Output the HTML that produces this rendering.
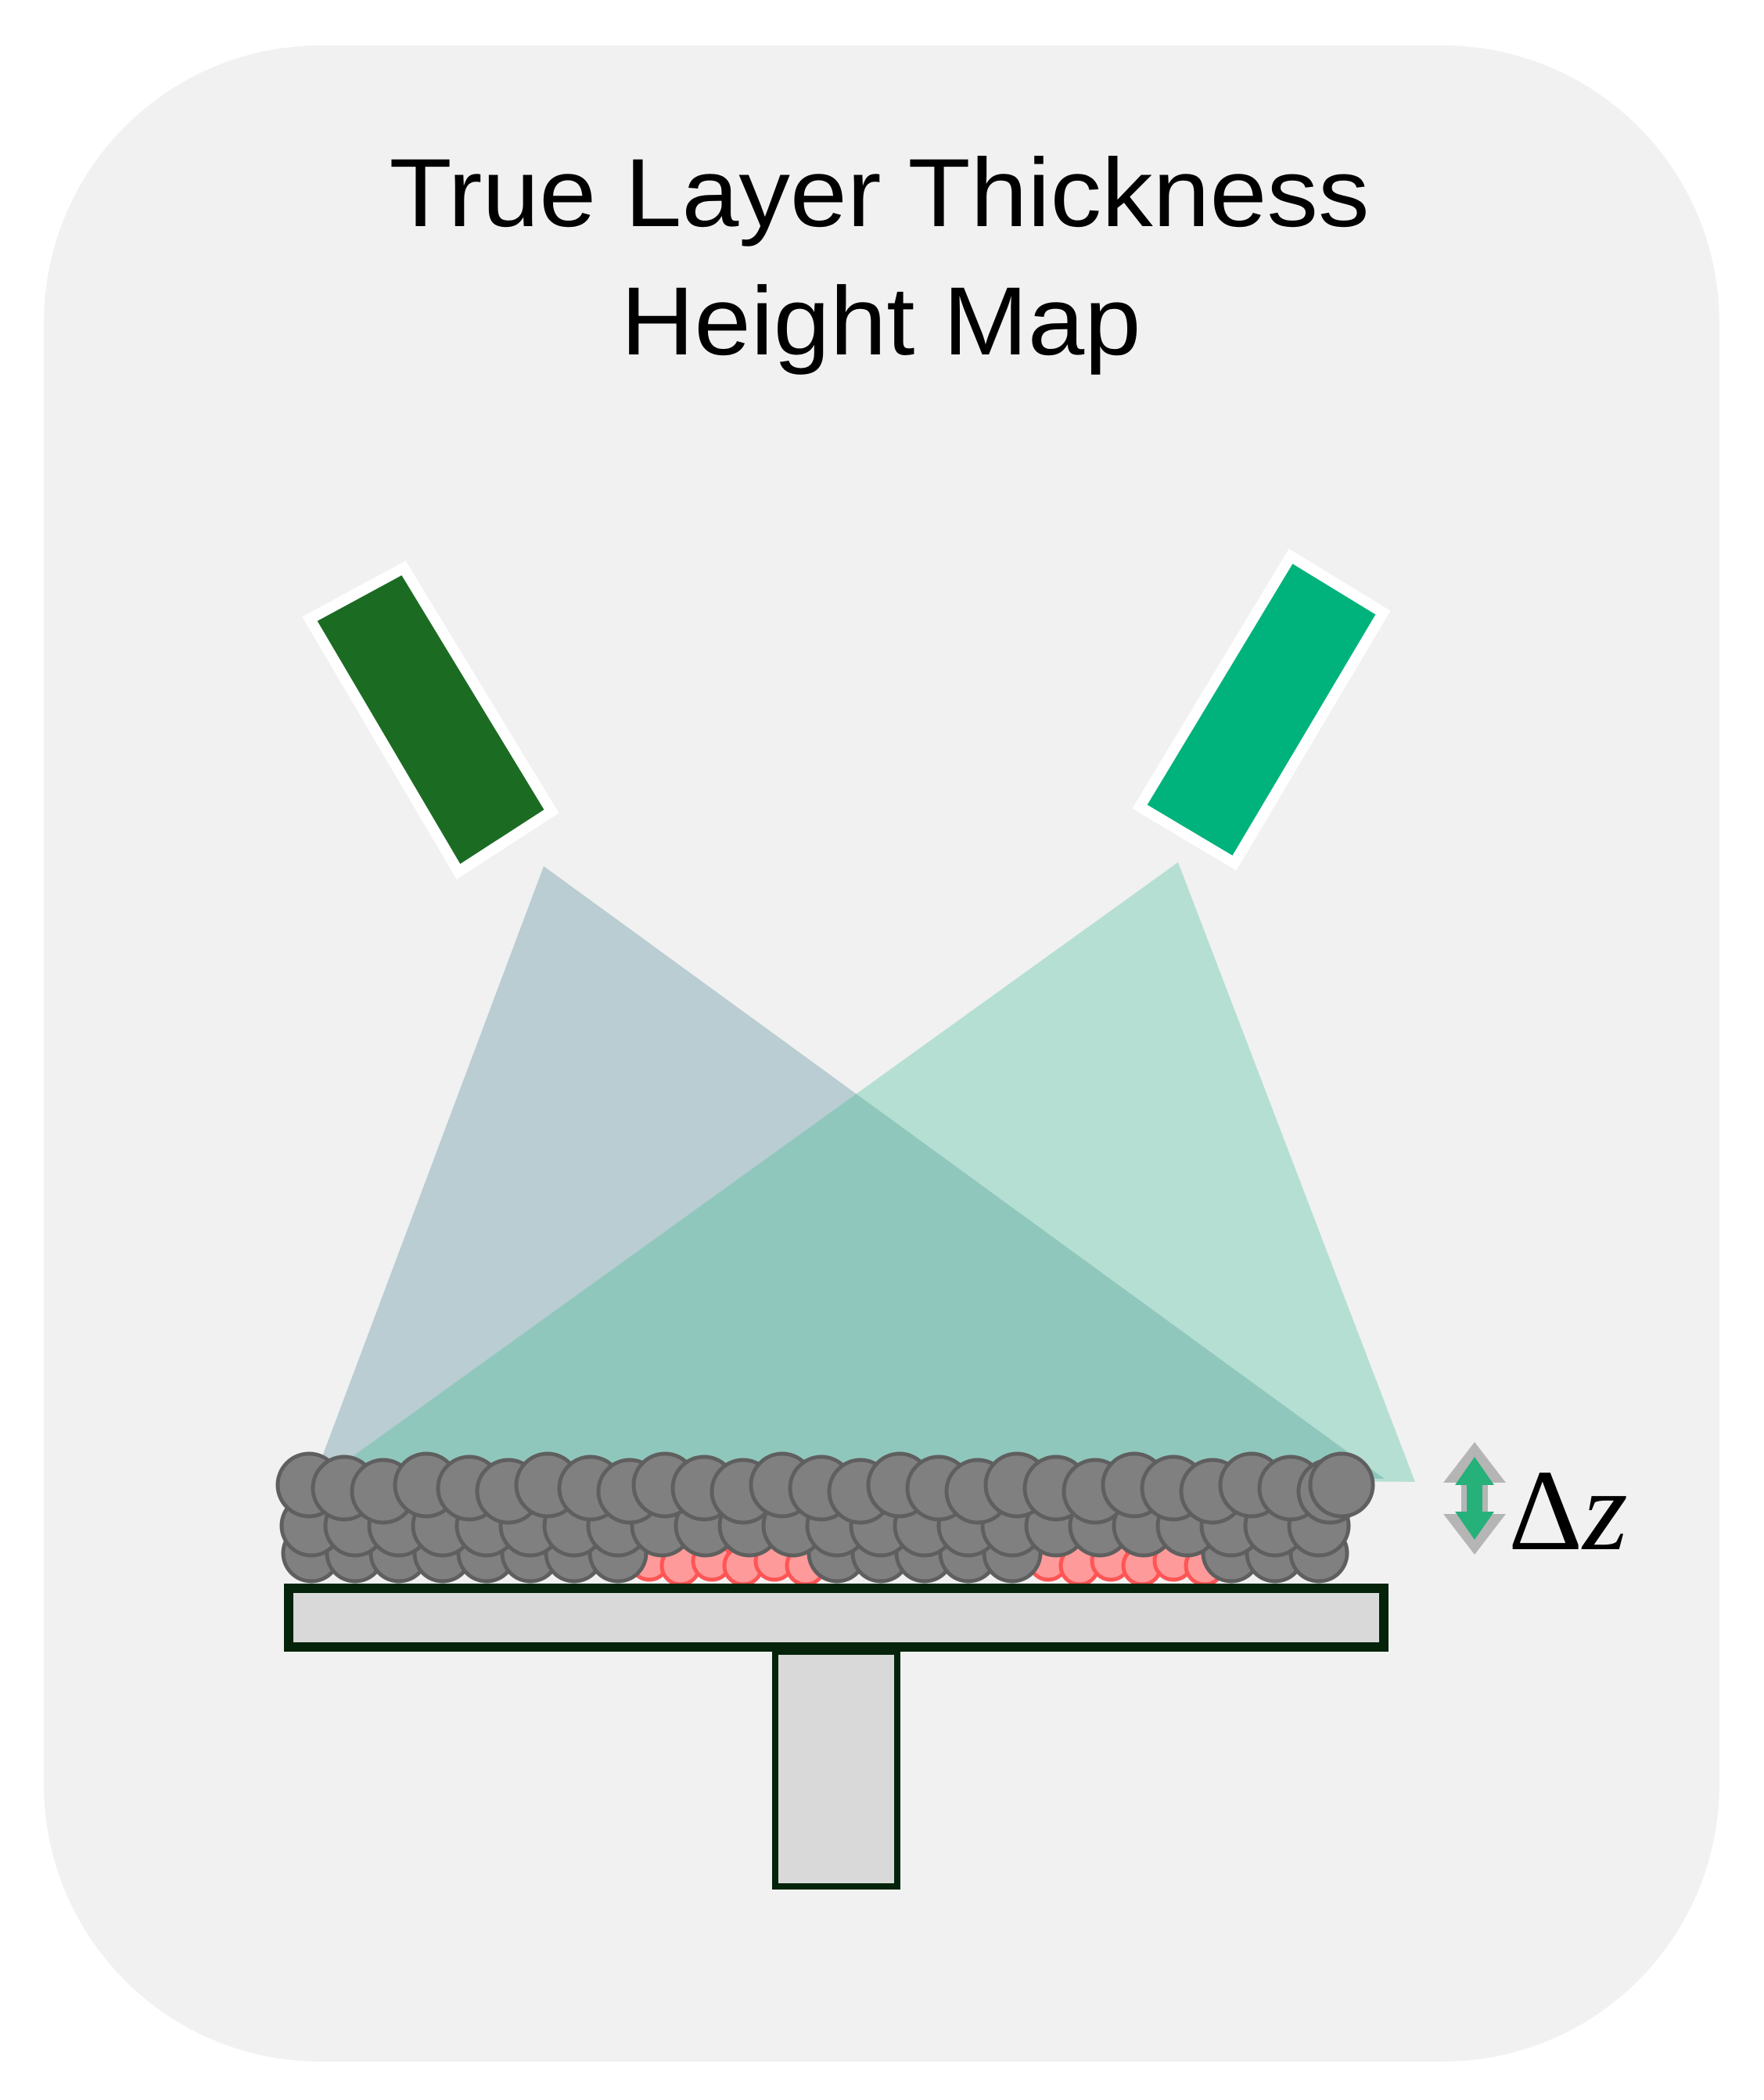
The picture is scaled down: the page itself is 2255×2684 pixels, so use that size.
<!DOCTYPE html>
<html><head><meta charset="utf-8"><style>
html,body{margin:0;padding:0;background:#fff;}
svg{display:block;}
</style></head><body>
<svg id="s" width="2255" height="2684" viewBox="0 0 2255 2684" xmlns="http://www.w3.org/2000/svg">
<rect x="56" y="58" width="2142" height="2577" rx="354" ry="354" fill="#f1f1f1"/>
<text x="1124" y="289" font-family="Liberation Sans, sans-serif" font-size="124" text-anchor="middle" textLength="1253" lengthAdjust="spacingAndGlyphs" fill="#000">True Layer Thickness</text>
<text x="1126" y="453" font-family="Liberation Sans, sans-serif" font-size="124" text-anchor="middle" textLength="665" lengthAdjust="spacingAndGlyphs" fill="#000">Height Map</text>
<!-- emitters -->
<polygon points="396,791 516,726 705,1037 586,1114" fill="#1b6b23" stroke="#fff" stroke-width="14" stroke-linejoin="miter"/>
<polygon points="1650,711 1768,783 1578,1103 1457,1031" fill="#00b27b" stroke="#fff" stroke-width="14" stroke-linejoin="miter"/>
<!-- beams -->
<polygon points="695,1107 405,1880 1770,1890" fill="#4f8a99" fill-opacity="0.35"/>
<polygon points="1506,1102 1809,1894 425,1880" fill="#45be97" fill-opacity="0.35"/>
<g id="parts"></g>
<!-- plate -->
<rect x="369" y="2030" width="1400" height="75" fill="#d9d9d9" stroke="#04230a" stroke-width="12"/>
<rect x="991" y="2111" width="156" height="300" fill="#d9d9d9" stroke="#04230a" stroke-width="8"/>
<!-- delta z arrow -->
<g>
<polygon points="1885,1843 1925,1895 1902,1895 1902,1935 1925,1935 1885,1987 1845,1935 1868,1935 1868,1895 1845,1895" fill="#b5b5b5"/>
<polygon points="1885,1862 1910,1898 1895,1898 1895,1932 1910,1932 1885,1968 1860,1932 1875,1932 1875,1898 1860,1898" fill="#26b07a"/>
</g>
<text x="1928" y="1980" font-family="Liberation Serif, serif" font-size="148" fill="#000">Δ<tspan font-style="italic">z</tspan></text>
</svg>
<script>
var g=document.getElementById('parts'),h='';
function c(x,y,r,f,s){h+='<circle cx="'+x+'" cy="'+y+'" r="'+r+'" fill="'+f+'" stroke="'+s+'" stroke-width="5"/>';}
[830,870,910,950,990,1030,1340,1380,1420,1460,1500,1540].forEach(function(x,i){c(x,1995+(i%2)*6,24,'#ff9a9a','#ff5555');});
for(var x=398;x<=1730;x+=56){ if((x>800&&x<1060)||(x>1310&&x<1570))continue; c(x,1985,36,'#808080','#5f5f5f');}
for(var x=398;x<=1730;x+=56){ c(x,1950,38,'#808080','#5f5f5f');}
var t=[395,440,490,545,600,650,700,755,805,850,900,950,1000,1050,1100,1150,1200,1250,1300,1350,1400,1450,1500,1550,1600,1650,1700,1715];
t.forEach(function(x,i){c(x,1898+(i%3)*4,40,'#808080','#5f5f5f');});
g.innerHTML=h;
</script>
</body></html>
